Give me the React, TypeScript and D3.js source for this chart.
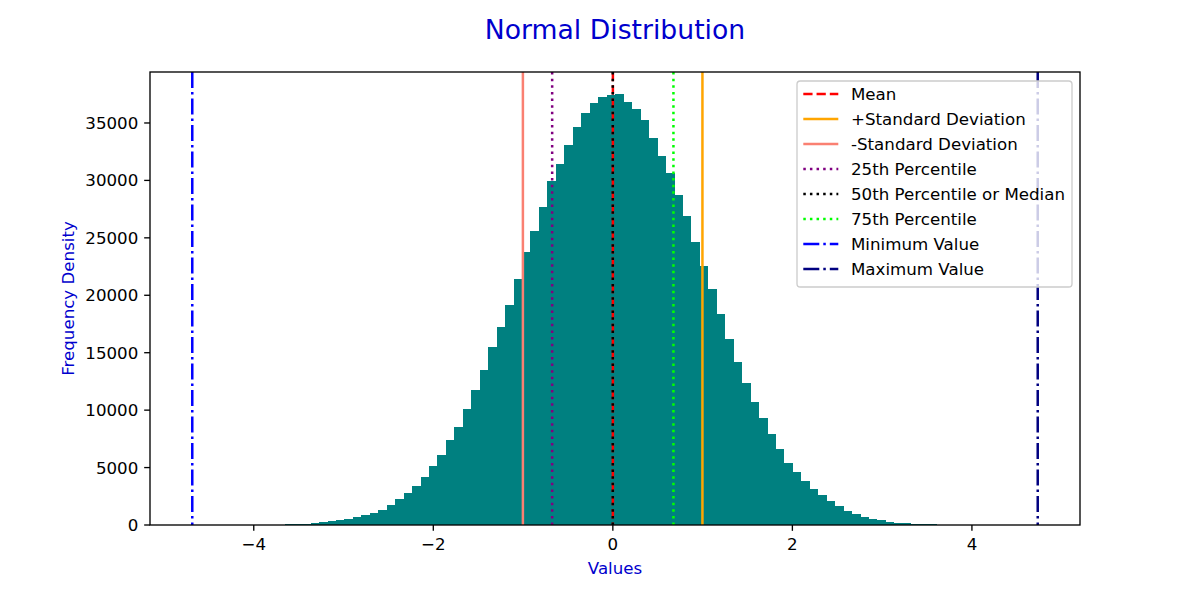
import * as d3 from 'd3';
import React, { useEffect } from 'react';

// histogram counts, 100 equal bins between the sample min and max
const binCounts = [
    1, 1, 0, 1, 2, 4, 6, 10, 16, 25, 38, 55, 80, 110,
    175, 235, 320, 405, 520, 670, 845, 1075, 1340, 1740,
    2265, 2755, 3395, 4150, 5135, 6095, 7370, 8560, 10070, 11750,
    13495, 15525, 17265, 19155, 21445, 23770, 25625, 27660, 29980, 31430,
    33080, 34680, 35840, 36715, 37290, 37435, 37560, 36800, 36220, 35260,
    33665, 32125, 30615, 28730, 26900, 24610, 22550, 20520, 18345, 16195,
    14220, 12390, 10680, 9345, 7895, 6615, 5425, 4585, 3800, 3135,
    2610, 2060, 1655, 1245, 930, 700, 550, 405, 290, 200,
    145, 100, 72, 50, 34, 24, 16, 11, 7, 5,
    3, 2, 1, 1, 0, 1
];
const minValue = -4.685;
const maxValue = 4.733;

const refLabels = [
    'Mean', '+Standard Deviation', '-Standard Deviation', '25th Percentile',
    '50th Percentile or Median', '75th Percentile', 'Minimum Value', 'Maximum Value'
];
const refValues = [0.0005, 0.998, -1.002, -0.676, -0.0008, 0.675, minValue, maxValue];

const xTicks = [-4, -2, 0, 2, 4];
const yTicks = [0, 5000, 10000, 15000, 20000, 25000, 30000, 35000];

// styles for the reference lines (matplotlib lw 1.5pt @120dpi)
const refColors = ['red', 'orange', 'salmon', 'purple', 'black', 'lime', 'blue', 'navy'];
const DASHED = '9.25,4', DOTTED = '2.5,4.125', DASHDOT = '16,4,2.5,4';
const refDashes = [DASHED, undefined, undefined, DOTTED, DOTTED, DOTTED, DASHDOT, DASHDOT];

const FONT = '"DejaVu Sans", Verdana, sans-serif';
const TITLE_BLUE = '#0000cd';

const App = () => {
    useEffect(() => {
        document.body.style.margin = '0';
    }, []);

    const margin = { top: 72, right: 120, bottom: 75, left: 150 };
    const W = 1200, H = 600;
    const left = margin.left, right = W - margin.right, top = margin.top, bottom = H - margin.bottom;

    const span = maxValue - minValue;
    const x = d3.scaleLinear()
        .domain([minValue - span * 0.05, maxValue + span * 0.05])
        .range([left, right]);
    const y = d3.scaleLinear()
        .domain([0, d3.max(binCounts)! * 1.05])
        .range([bottom, top]);

    const binW = span / binCounts.length;
    const edges = d3.range(binCounts.length + 1).map(k => minValue + k * binW);

    const fmtX = (d: number) => d < 0 ? '\u2212' + Math.abs(d) : String(d);

    // legend placement
    const lg = { x: 797, y: 81, w: 275, h: 206, row: 25 };

    return <svg width={W} height={H} style={{ display: 'block' }} fontFamily={FONT}>
        <rect width={W} height={H} fill="white" />

        <text x={(left + right) / 2} y={38.7} textAnchor="middle" fontSize={26.67} fill={TITLE_BLUE}>Normal Distribution</text>

        <g shapeRendering="crispEdges">
            {binCounts.map((c, i) =>
                <rect key={i}
                    x={x(edges[i])}
                    y={y(c)}
                    width={x(edges[i + 1]) - x(edges[i]) + 0.4}
                    height={y(0) - y(c)}
                    fill="#008080" />
            )}
        </g>

        {refValues.map((v, i) =>
            <line key={i} x1={x(v)} x2={x(v)} y1={top} y2={bottom}
                stroke={refColors[i]} strokeWidth={2.5} strokeDasharray={refDashes[i]} />
        )}

        <rect x={left} y={top} width={right - left} height={bottom - top} fill="none" stroke="black" strokeWidth={1.33} />

        {/* x axis */}
        {xTicks.map(t =>
            <g key={t} transform={`translate(${x(t)},0)`}>
                <line y1={bottom} y2={bottom + 5.83} stroke="black" strokeWidth={1.33} />
                <text y={549.5} textAnchor="middle" fontSize={16.67}>{fmtX(t)}</text>
            </g>
        )}
        <text x={(left + right) / 2} y={574} textAnchor="middle" fontSize={16.67} fill={TITLE_BLUE}>Values</text>

        {/* y axis */}
        {yTicks.map(t =>
            <g key={t} transform={`translate(0,${y(t)})`}>
                <line x1={left - 5.83} x2={left} stroke="black" strokeWidth={1.33} />
                <text x={left - 11.7} y={6.07} textAnchor="end" fontSize={16.67}>{t}</text>
            </g>
        )}
        <text transform={`translate(73.8,${(top + bottom) / 2}) rotate(-90)`} textAnchor="middle" fontSize={16.67} fill={TITLE_BLUE}>Frequency Density</text>

        {/* legend */}
        <g>
            <rect x={lg.x} y={lg.y} width={lg.w} height={lg.h} rx={3.3} fill="white" fillOpacity={0.8} stroke="#cccccc" strokeWidth={1.33} />
            {refLabels.map((lab, i) => {
                const cy = 94 + i * lg.row;
                return <g key={lab}>
                    <line x1={803.3} x2={838.3} y1={cy} y2={cy} stroke={refColors[i]} strokeWidth={2.5} strokeDasharray={refDashes[i]} />
                    <text x={851} y={cy + 6.3} fontSize={16.67}>{lab}</text>
                </g>;
            })}
        </g>
    </svg>;
};

export default App;
